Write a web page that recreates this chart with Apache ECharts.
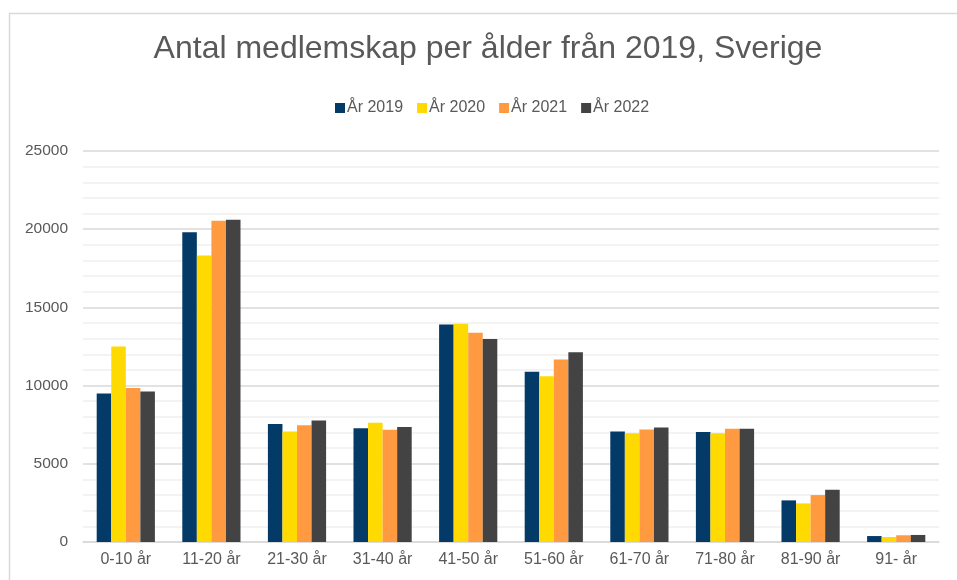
<!DOCTYPE html>
<html>
<head>
<meta charset="utf-8">
<script src="https://cdn.jsdelivr.net/npm/echarts@6/dist/echarts.min.js"></script>
<style>
html,body{margin:0;padding:0;background:#fff;}
#c{width:957px;height:580px;}
</style>
</head>
<body>
<div id="c"></div>
<script>
const categories = ['0-10 år','11-20 år','21-30 år','31-40 år','41-50 år','51-60 år','61-70 år','71-80 år','81-90 år','91- år'];
const seriesNames = ['År 2019','År 2020','År 2021','År 2022'];
const y2019 = [9500, 19800, 7550, 7280, 13900, 10880, 7060, 7040, 2660, 380];
const y2020 = [12500, 18320, 7070, 7620, 13960, 10600, 6960, 6960, 2470, 320];
const y2021 = [9850, 20540, 7470, 7180, 13380, 11670, 7190, 7240, 3000, 430];
const y2022 = [9620, 20600, 7770, 7350, 12980, 12140, 7320, 7240, 3340, 450];
const yTicks = [0, 5000, 10000, 15000, 20000, 25000];
const colors = ['#033a67', '#ffda00', '#ff9a40', '#434343'];

const chart = echarts.init(document.getElementById('c'));
const font = 'Liberation Sans, Arial, sans-serif';
const allData = [y2019, y2020, y2021, y2022];
chart.setOption({
  animation: false,
  textStyle: {fontFamily: font},
  graphic: [{
    type: 'rect', left: 7, top: 11,
    shape: {width: 1000, height: 620},
    style: {fill: 'none', stroke: '#d9d9d9', lineWidth: 1.5},
    silent: true, z: -10
  }],
  title: {
    text: 'Antal medlemskap per ålder från 2019, Sverige',
    left: 483, top: 28, textAlign: 'center',
    textStyle: {fontFamily: font, fontSize: 32, fontWeight: 'normal', color: '#595959'}
  },
  legend: {
    data: seriesNames,
    left: 330, top: 95,
    itemWidth: 10, itemHeight: 10, itemGap: 14,
    icon: 'rect',
    textStyle: {fontFamily: font, fontSize: 16, color: '#595959', padding: [0,0,0,-3]}
  },
  grid: {left: 83, right: 18, top: 151, bottom: 38, containLabel: false},
  xAxis: {
    type: 'category', data: categories,
    axisLine: {lineStyle: {color: '#d9d9d9', width: 1.5}},
    axisTick: {show: false},
    axisLabel: {fontFamily: font, fontSize: 16, color: '#595959', margin: 10}
  },
  yAxis: {
    type: 'value', min: yTicks[0], max: yTicks[yTicks.length-1], interval: 5000,
    axisLine: {show: false}, axisTick: {show: false},
    axisLabel: {fontFamily: font, fontSize: 15.5, color: '#595959', margin: 15, formatter: v => String(v)},
    splitLine: {lineStyle: {color: '#d9d9d9', width: 1.5}},
    minorTick: {show: false, splitNumber: 5},
    minorSplitLine: {show: true, lineStyle: {color: '#f0f0f0', width: 1.5}}
  },
  series: seriesNames.map((n, i) => ({
    name: n, type: 'bar', data: allData[i],
    barGap: '0%', barCategoryGap: '32%',
    itemStyle: {color: colors[i]}
  }))
});
</script>
</body>
</html>
